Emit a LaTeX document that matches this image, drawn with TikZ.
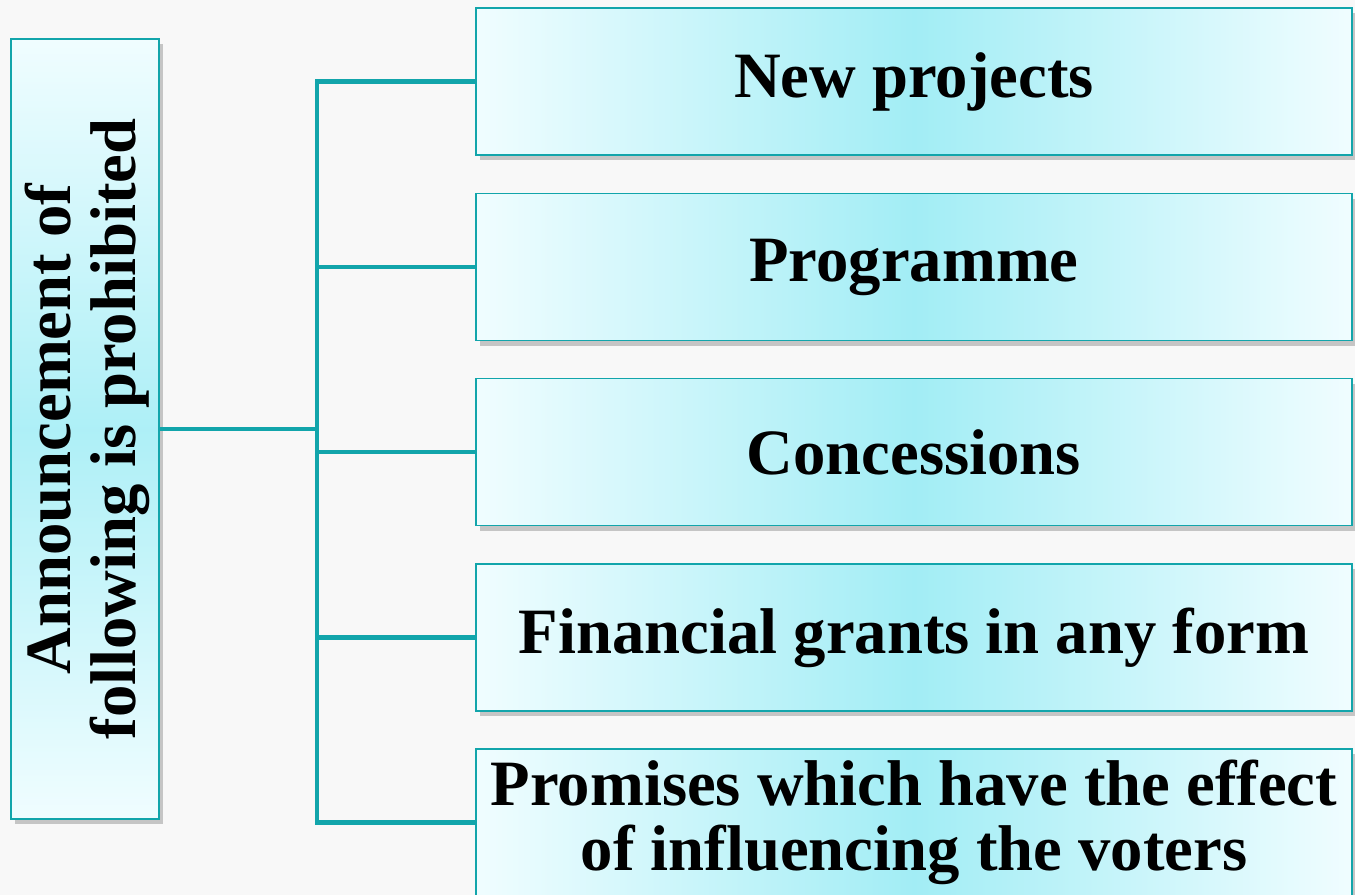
\documentclass[tikz,border=0pt]{standalone}
\usepackage{fontspec}
\setmainfont{Liberation Serif}
\usepackage{xcolor}
\usetikzlibrary{shadows}

\definecolor{edge}{HTML}{12A5AB}
\definecolor{cyanmid}{HTML}{A2EDF5}
\definecolor{cyanlight}{HTML}{F0FDFF}
\definecolor{paper}{HTML}{F8F8F8}

\begin{document}
\begin{tikzpicture}[
        item/.style={draw=edge, line width=1.1pt, minimum width=17.52cm, minimum height=2.94cm,
            inner sep=0pt, left color=cyanlight, right color=cyanlight, middle color=cyanmid,
            drop shadow={shadow xshift=2pt, shadow yshift=-3pt, fill=black!60, opacity=.35},
            align=center, font=\fontsize{36.8}{37}\selectfont\bfseries},
        head/.style={draw=edge, line width=1.1pt, minimum width=2.96cm, minimum height=15.6cm,
            inner sep=0pt, top color=cyanlight, bottom color=cyanlight, middle color=cyanmid!85!cyanlight,
            drop shadow={shadow xshift=2pt, shadow yshift=-3pt, fill=black!60, opacity=.35},
            font=\fontsize{36.8}{37}\selectfont\bfseries},
        link/.style={draw=edge, line width=2.8pt}]

        \fill[paper] (0,0) rectangle (27.1,17.9);
        \useasboundingbox (0,0) rectangle (27.1,17.9);

        % left label
        \node[head] (ann) at (1.70,9.32)
            {\hspace*{6pt}\rotatebox{90}{\begin{tabular}{@{}c@{}}Announcement of\\following is prohibited\end{tabular}}};

        % items
        \node[item] (p1) at (18.28,16.27) {New projects};
        \node[item] (p2) at (18.28,12.56) {Programme};
        \node[item] (p3) at (18.28,8.86) {Concessions};
        \node[item] (p4) at (18.28,5.15) {Financial grants in any form};
        \node[item] (p5) at (18.28,1.45) {Promises which have the effect\\of influencing the voters};

        % connectors
        \coordinate (j) at (6.34,9.32);
        \draw[link] (ann.east) -- (j);
        \foreach \i in {1,...,5}
            \draw[link] (j) |- (p\i.west);

    \end{tikzpicture}
\end{document}
